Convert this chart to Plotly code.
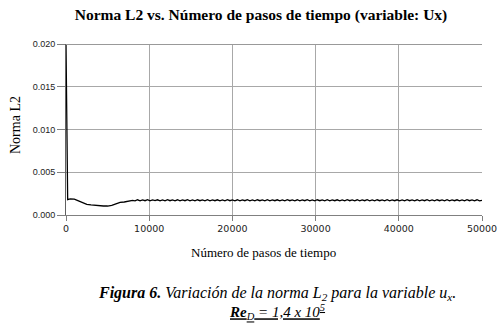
import plotly.graph_objects as go

# Transient part (step, L2 norm)
early_steps = [0, 60, 150, 200, 500, 1000, 1500, 2000, 2500, 3000, 3500, 4000, 4500, 5000, 5500, 6000, 6500, 7000, 7500]
early_l2 = [0.0200, 0.0110, 0.0107, 0.0018, 0.00188, 0.00186, 0.00165, 0.00145, 0.00125, 0.00118, 0.00112, 0.00106, 0.00105, 0.00105, 0.00112, 0.00130, 0.00148, 0.00152, 0.00162]

# Quasi-steady oscillating part, sampled every 300 steps from 8000
osc_start = 8000
osc_step = 300
osc_l2 = [
    0.00170, 0.00165, 0.00178, 0.00166, 0.00177, 0.00167, 0.00179, 0.00165, 0.00176, 0.00168,
    0.00178, 0.00166, 0.00177, 0.00165, 0.00179, 0.00167, 0.00176, 0.00166, 0.00178, 0.00165,
    0.00177, 0.00167, 0.00179, 0.00166, 0.00176, 0.00165, 0.00178, 0.00167, 0.00177, 0.00166,
    0.00179, 0.00165, 0.00176, 0.00167, 0.00178, 0.00166, 0.00177, 0.00165, 0.00179, 0.00167,
    0.00176, 0.00166, 0.00178, 0.00165, 0.00177, 0.00167, 0.00179, 0.00166, 0.00176, 0.00165,
    0.00178, 0.00167, 0.00177, 0.00166, 0.00179, 0.00165, 0.00176, 0.00167, 0.00178, 0.00166,
    0.00177, 0.00165, 0.00179, 0.00167, 0.00176, 0.00166, 0.00178, 0.00165, 0.00177, 0.00167,
    0.00179, 0.00166, 0.00176, 0.00165, 0.00178, 0.00167, 0.00177, 0.00166, 0.00179, 0.00165,
    0.00176, 0.00167, 0.00178, 0.00166, 0.00177, 0.00165, 0.00179, 0.00167, 0.00176, 0.00166,
    0.00178, 0.00165, 0.00177, 0.00167, 0.00179, 0.00166, 0.00176, 0.00165, 0.00178, 0.00167,
    0.00177, 0.00166, 0.00179, 0.00165, 0.00176, 0.00167, 0.00178, 0.00166, 0.00177, 0.00165,
    0.00179, 0.00167, 0.00176, 0.00166, 0.00178, 0.00165, 0.00177, 0.00167, 0.00179, 0.00166,
    0.00176, 0.00165, 0.00178, 0.00167, 0.00177, 0.00166, 0.00179, 0.00165, 0.00176, 0.00167,
    0.00178, 0.00166, 0.00177, 0.00165, 0.00179, 0.00167, 0.00176, 0.00166, 0.00178, 0.00165,
    0.00172,
]
osc_steps = [osc_start + osc_step * i for i in range(len(osc_l2))]

x_ticks = [0, 10000, 20000, 30000, 40000, 50000]
y_ticks = [0.000, 0.005, 0.010, 0.015, 0.020]
y_tick_labels = ["0.000", "0.005", "0.010", "0.015", "0.020"]

title_text = "<b>Norma L2 vs. Número de pasos de tiempo (variable: Ux)</b>"
x_title = "Número de pasos de tiempo"
y_title = "Norma L2"
caption1 = "<b><i>Figura 6.</i></b><i> Variación de la norma L<sub>2</sub> para la variable u<sub>x</sub>.</i>"
caption2 = "<span style='text-decoration:underline'><b><i>Re</i></b><i><sub>D</sub> = 1,4 x 10<sup>5</sup></i></span>"

steps = early_steps + osc_steps
l2 = early_l2 + osc_l2

fig = go.Figure()
fig.add_trace(go.Scatter(x=steps, y=l2, mode="lines",
                         line=dict(color="black", width=1.3), showlegend=False))

serif = "Liberation Serif, Times New Roman, serif"
sans = "DejaVu Sans, Liberation Sans, sans-serif"

W, H = 501, 334
L, R, T, B = 66, 501 - 482, 44, 334 - 215
PW = W - L - R
PH = H - T - B


def px(xp):
    return (xp - L) / PW


def py(yp):
    return (H - B - yp) / PH


fig.update_layout(
    width=W, height=H,
    margin=dict(l=L, r=R, t=T, b=B),
    paper_bgcolor="white", plot_bgcolor="white",
    title=dict(text=title_text, x=261 / W, xanchor="center", y=1 - 15 / H,
               yanchor="middle", yref="container",
               font=dict(family=serif, size=15.5, color="black")),
    xaxis=dict(range=[0, 50000], tickvals=x_ticks, ticktext=[str(v) for v in x_ticks],
               showgrid=True, gridcolor="#a8a8a8", gridwidth=1, automargin=False,
               showline=True, linecolor="#808080", linewidth=1, mirror=False,
               ticks="outside", ticklen=5, tickcolor="#808080",
               tickfont=dict(family=sans, size=9.5, color="#222"), zeroline=False),
    yaxis=dict(range=[0, 0.020], tickvals=y_ticks, ticktext=y_tick_labels,
               showgrid=True, gridcolor="#a8a8a8", gridwidth=1, automargin=False,
               showline=True, linecolor="#606060", linewidth=1,
               ticks="outside", ticklen=8, tickcolor="#808080",
               tickfont=dict(family="Liberation Sans, Arial, sans-serif", size=9, color="#222"),
               zeroline=False),
    annotations=[
        dict(text=x_title, xref="paper", yref="paper", x=px(263), y=py(252),
             showarrow=False, font=dict(family=serif, size=13, color="black"),
             xanchor="center", yanchor="middle"),
        dict(text=y_title, xref="paper", yref="paper", x=px(15), y=py(125),
             showarrow=False, textangle=-90, font=dict(family=serif, size=14, color="black"),
             xanchor="center", yanchor="middle"),
        dict(text=caption1, xref="paper", yref="paper", x=px(277), y=py(293),
             showarrow=False, font=dict(family=serif, size=16, color="black"),
             xanchor="center", yanchor="middle"),
        dict(text=caption2, xref="paper", yref="paper", x=px(277), y=py(312),
             showarrow=False, font=dict(family=serif, size=15, color="black"),
             xanchor="center", yanchor="middle"),
    ],
)
fig.add_shape(type="line", xref="paper", yref="y", x0=0, x1=1, y0=0.020, y1=0.020,
              line=dict(color="#999999", width=2))

fig.write_html(
    "out.html",
    config={"displayModeBar": False},
    post_script="document.body.style.margin='0';document.body.style.overflow='hidden';",
)
